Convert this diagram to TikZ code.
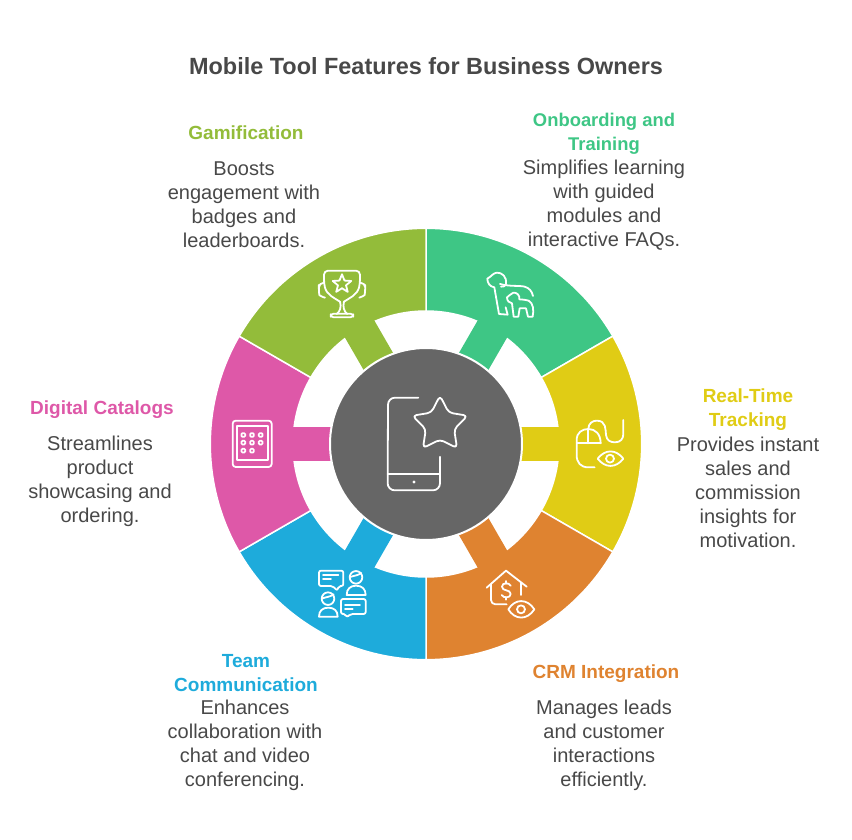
\documentclass[tikz,border=0pt]{standalone}
\usepackage{fontspec}
\setmainfont{Liberation Sans}
\usetikzlibrary{shapes.geometric}
\definecolor{cg}{RGB}{62, 198, 133}
\definecolor{cy}{RGB}{224, 204, 21}
\definecolor{co}{RGB}{223, 131, 48}
\definecolor{cb}{RGB}{30, 171, 219}
\definecolor{cp}{RGB}{222, 88, 168}
\definecolor{cl}{RGB}{147, 188, 58}
\definecolor{cc}{RGB}{102, 102, 102}
\definecolor{tt}{RGB}{72, 72, 72}
\tikzset{
  titletext/.style={font=\fontsize{23.45}{28}\selectfont\bfseries, text=tt, inner sep=0pt},
  headtext/.style={font=\fontsize{19}{24}\selectfont\bfseries, align=center, inner sep=0pt},
  bodytext/.style={font=\fontsize{20}{24}\selectfont, text=tt, align=center, inner sep=0pt},
  iconline/.style={draw=white, line width=1.8pt, line cap=round, line join=round},
  crop/.style 2 args={shift={(#1,#2)}, x=0.3333pt, y=-0.3333pt},
}

\begin{document}
\begin{tikzpicture}[x=1pt, y=1pt]
\useasboundingbox (0,0) rectangle (852,-840);
\node (title) [titletext] at (426, -66) {Mobile Tool Features for Business Owners};
% ring
\begin{scope}[shift={(426,-444)}]
\foreach \ang/\col in {30/cg, -30/cy, -90/co, -150/cb, 150/cp, 90/cl} {
  \filldraw [fill=\col, draw=white, line width=1.5pt] (\ang:215.7)
    arc [start angle=\ang, end angle=\ang+60, radius=215.7pt]
    -- (\ang+60:133) arc [start angle=\ang+60, end angle=\ang, radius=133pt] -- cycle;
  \fill [\col, rotate=\ang+30] (90,-17) rectangle (140,17);
}
\filldraw [fill=cc, draw=white, line width=2pt] (0,0) circle [radius=96pt];
\end{scope}
% phone
\begin{scope}[crop={370}{-385}]
\draw [iconline] (145,38) -- (75,38) arc [start angle=90, end angle=180, radius=7pt] -- (53,295)
  arc [start angle=180, end angle=270, radius=7pt] -- (189,316)
  arc [start angle=270, end angle=360, radius=7pt] -- (210,215);
\draw [iconline] (53,267) -- (210,267);
\fill [white] (132,291) circle [radius=1.7pt];
\node (phonestar) [star, star points=5, star point ratio=1.95, minimum size=58pt, inner sep=0pt,
  iconline, rounded corners=4pt] at (210,119) {};
\end{scope}
% trophy
\begin{scope}[crop={200}{-220}]
\draw [iconline, rounded corners=4pt] (420,245) .. controls (405,235) and (380,225) .. (372,190) -- (372,152) -- (480,152) -- (480,190)
  .. controls (472,225) and (447,235) .. (432,245);
\draw [iconline] (420,245) .. controls (425,260) and (420,275) .. (410,282);
\draw [iconline] (432,245) .. controls (428,260) and (432,275) .. (442,282);
\draw [iconline, rounded corners=3pt] (392,281) rectangle (460,292);
\draw [iconline, rounded corners=5pt] (372,188) -- (357,188) -- (356,210) .. controls (358,225) and (365,231) .. (375,233);
\draw [iconline, rounded corners=5pt] (480,188) -- (496,188) -- (496,210) .. controls (494,225) and (487,231) .. (478,233);
\node (cupstar) [star, star points=5, star point ratio=2.3, minimum size=19.5pt, inner sep=0pt, iconline] at (426,192) {};
\end{scope}
% dogs
\begin{scope}[crop={426}{-220}]
\draw [iconline] (240,192) .. controls (243,170) and (228,157) .. (212,158) .. controls (200,160) and (196,170) .. (184,176)
  .. controls (184,190) and (192,200) .. (205,202) -- (219,282) -- (245,284) -- (239,262);
\draw [iconline] (225,200) .. controls (232,202) and (238,198) .. (240,192);
\draw [iconline] (222,192) .. controls (250,200) and (280,196) .. (296,200) .. controls (310,204) and (318,214) .. (321,228);
\draw [iconline] (280,238) .. controls (282,225) and (272,217) .. (262,218) .. controls (255,220) and (250,228) .. (243,232)
  .. controls (243,242) and (250,250) .. (258,250) -- (263,290) -- (277,290) -- (281,265) -- (300,265) -- (306,290) -- (320,290)
  .. controls (324,270) and (322,250) .. (308,242) .. controls (300,238) and (290,240) .. (280,238);
\end{scope}
% mouse and eye
\begin{scope}[crop={560}{-410}]
\draw [iconline] (104,172) -- (85,172) .. controls (62,172) and (50,158) .. (50,135) -- (50,90) .. controls (50,68) and (66,57) .. (85,57)
  .. controls (106,57) and (122,72) .. (122,100);
\draw [iconline] (50,100) -- (122,100);
\draw [iconline] (85,57) -- (85,100);
\draw [iconline] (85,57) .. controls (85,40) and (98,32) .. (110,32) .. controls (140,32) and (136,60) .. (138,75)
  .. controls (140,92) and (152,97) .. (165,97) .. controls (182,97) and (190,86) .. (190,72) -- (190,30);
\draw [iconline] (113,146) .. controls (135,117) and (168,117) .. (190,146) .. controls (168,175) and (135,175) .. (113,146) -- cycle;
\draw [iconline] (150,146) circle [radius=4pt];
\end{scope}
% house and eye
\begin{scope}[crop={480}{-565}]
\draw [iconline] (20,68) -- (78,17) -- (140,65);
\draw [iconline] (33,58) -- (33,105) arc [start angle=180, end angle=270, radius=4.3pt] -- (80,118);
\draw [iconline] (123,55) -- (123,90);
\draw [iconline] (92,62) .. controls (87,52) and (66,52) .. (66,65) .. controls (66,80) and (92,72) .. (92,87)
  .. controls (92,100) and (70,100) .. (65,90);
\draw [iconline] (78,48) -- (78,56);
\draw [iconline] (78,97) -- (78,104);
\draw [iconline] (85,133) .. controls (105,100) and (142,100) .. (163,133) .. controls (142,166) and (105,166) .. (85,133) -- cycle;
\draw [iconline] (123,133) circle [radius=4pt];
\end{scope}
% chat people
\begin{scope}[crop={312}{-565}]
\draw [iconline, rounded corners=2pt] (62,63) -- (21,63) -- (21,17) -- (94,17) -- (94,63) -- (80,63) -- (76,77) -- cycle;
\draw [iconline] (33,30) -- (79,30);
\draw [iconline] (33,43) -- (57,43);
\draw [iconline] (132,37) circle [radius=6.3pt];
\draw [iconline] (115,36) .. controls (124,32) and (138,32) .. (148,24);
\draw [iconline] (104,90) .. controls (104,72) and (115,62) .. (132,62) .. controls (150,62) and (161,72) .. (161,90) -- cycle;
\draw [iconline] (48,101) circle [radius=6.3pt];
\draw [iconline] (32,100) .. controls (41,96) and (55,96) .. (65,88);
\draw [iconline] (21,155) .. controls (21,137) and (32,128) .. (49,128) .. controls (66,128) and (77,137) .. (77,155) -- cycle;
\draw [iconline, rounded corners=2pt] (116,147) -- (161,147) -- (161,102) -- (87,102) -- (87,147) -- (101,147) -- (104,157) -- cycle;
\draw [iconline] (99,120) -- (144,120);
\draw [iconline] (99,133) -- (122,133);
\end{scope}
% tablet
\begin{scope}[crop={220}{-410}]
\draw [iconline, rounded corners=3pt] (38,32) rectangle (155,171);
\draw [iconline] (50,47) rectangle (143,150);
\foreach \px/\py in {70/75, 96/75, 122/75, 70/98, 96/98, 122/98, 70/122, 96/122} {
  \draw [white, line width=1.7pt, rounded corners=1pt] (\px-5.5,\py-5.5) rectangle (\px+5.5,\py+5.5);
}
\end{scope}
% labels
\node (gamehead) [headtext, text=cl] at (246, -133) {Gamification};
\node (gamebody) [bodytext] at (244, -205) {Boosts\\engagement with\\badges and\\leaderboards.};
\node (boardhead) [headtext, text=cg, font=\fontsize{18.4}{24}\selectfont\bfseries] at (604, -134) {Onboarding and\\Training};
\node (boardbody) [bodytext] at (604, -205) {Simplifies learning\\with guided\\modules and\\interactive FAQs.};
\node (trackhead) [headtext, text=cy] at (748, -410) {Real-Time\\Tracking};
\node (trackbody) [bodytext] at (748, -492) {Provides instant\\sales and\\commission\\insights for\\motivation.};
\node (crmhead) [headtext, text=co] at (606, -674) {CRM Integration};
\node (crmbody) [bodytext] at (604, -745) {Manages leads\\and customer\\interactions\\efficiently.};
\node (teamhead) [headtext, text=cb] at (246, -673) {Team\\Communication};
\node (teambody) [bodytext] at (245, -745) {Enhances\\collaboration with\\chat and video\\conferencing.};
\node (cathead) [headtext, text=cp] at (102, -410) {Digital Catalogs};
\node (catbody) [bodytext] at (100, -481) {Streamlines\\product\\showcasing and\\ordering.};
\end{tikzpicture}
\end{document}
